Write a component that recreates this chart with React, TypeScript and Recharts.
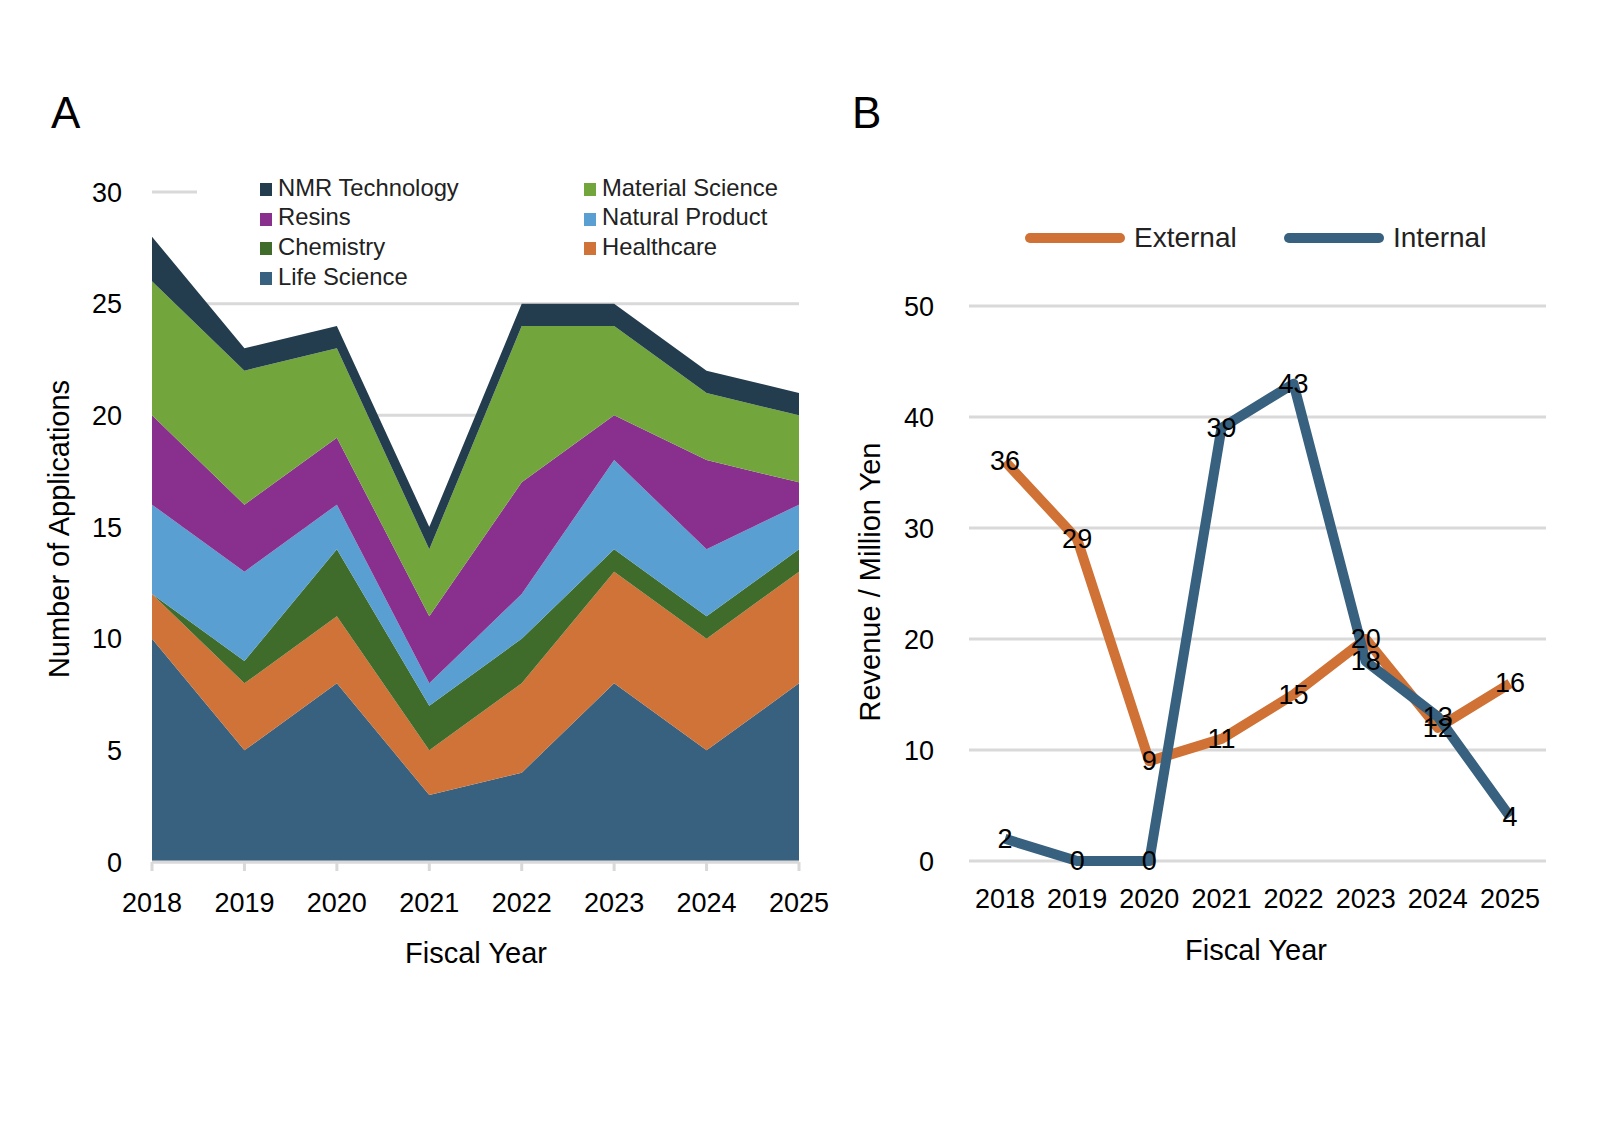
import React from 'react';
import {
  AreaChart,
  Area,
  LineChart,
  Line,
  XAxis,
  YAxis,
  CartesianGrid,
} from 'recharts';

const years = ['2018', '2019', '2020', '2021', '2022', '2023', '2024', '2025'];

// Panel A: applications per field (stacked, bottom to top)
const lifeScience = [10, 5, 8, 3, 4, 8, 5, 8];
const healthcare = [2, 3, 3, 2, 4, 5, 5, 5];
const chemistry = [0, 1, 3, 2, 2, 1, 1, 1];
const naturalProduct = [4, 4, 2, 1, 2, 4, 3, 2];
const resins = [4, 3, 3, 3, 5, 2, 4, 1];
const materialScience = [6, 6, 4, 3, 7, 4, 3, 3];
const nmrTechnology = [2, 1, 1, 1, 1, 1, 1, 1];
const applicationTicks = [0, 5, 10, 15, 20, 25, 30];

// Panel B: revenue in million yen
const external = [36, 29, 9, 11, 15, 20, 12, 16];
const internal = [2, 0, 0, 39, 43, 18, 13, 4];
const revenueTicks = [0, 10, 20, 30, 40, 50];

const fields = [
  { key: 'lifeScience', name: 'Life Science', color: '#38607F', values: lifeScience },
  { key: 'healthcare', name: 'Healthcare', color: '#CF7338', values: healthcare },
  { key: 'chemistry', name: 'Chemistry', color: '#3F6B2B', values: chemistry },
  { key: 'naturalProduct', name: 'Natural Product', color: '#599FD1', values: naturalProduct },
  { key: 'resins', name: 'Resins', color: '#89308E', values: resins },
  { key: 'materialScience', name: 'Material Science', color: '#72A63D', values: materialScience },
  { key: 'nmrTechnology', name: 'NMR Technology', color: '#243D4E', values: nmrTechnology },
];

const legendOrder = [
  'nmrTechnology',
  'materialScience',
  'resins',
  'naturalProduct',
  'chemistry',
  'healthcare',
  'lifeScience',
];

const areaData = years.map((year, i) => {
  const row: Record<string, string | number> = { year };
  fields.forEach((f) => {
    row[f.key] = f.values[i];
  });
  return row;
});

const lineData = years.map((year, i) => ({
  year,
  external: external[i],
  internal: internal[i],
}));

const FONT = "'Liberation Sans', Arial, sans-serif";
const GRID = '#d9d9d9';
const EXT_COLOR = '#D07235';
const INT_COLOR = '#37617F';

const tickStyle = { fontSize: 27, fill: '#000', fontFamily: FONT };

function AreaLegend() {
  return (
    <div
      style={{
        position: 'absolute',
        left: 197,
        top: 173,
        width: 606,
        height: 118,
        background: '#fff',
        paddingLeft: 63,
        display: 'grid',
        gridTemplateColumns: '324px 1fr',
        gridAutoRows: 29.6,
        fontFamily: FONT,
        fontSize: 23.8,
        color: '#222',
        boxSizing: 'border-box',
      }}
    >
      {legendOrder.map((k) => {
        const f = fields.find((x) => x.key === k)!;
        return (
          <div key={k} style={{ display: 'flex', alignItems: 'center', height: 29.6 }}>
            <span
              style={{
                display: 'inline-block',
                width: 12,
                height: 13,
                background: f.color,
                marginRight: 6,
                marginTop: 4,
              }}
            />
            <span>{f.name}</span>
          </div>
        );
      })}
    </div>
  );
}

function LineLegend() {
  const items = [
    { name: 'External', color: EXT_COLOR, left: 1025 },
    { name: 'Internal', color: INT_COLOR, left: 1284 },
  ];
  return (
    <>
      {items.map((it) => (
        <div
          key={it.name}
          style={{
            position: 'absolute',
            left: it.left,
            top: 238,
            transform: 'translateY(-50%)',
            display: 'flex',
            alignItems: 'center',
            fontFamily: FONT,
            fontSize: 28,
            color: '#222',
            whiteSpace: 'nowrap',
          }}
        >
          <span
            style={{
              display: 'inline-block',
              width: 100,
              height: 10,
              borderRadius: 5,
              background: it.color,
              marginRight: 9,
            }}
          />
          <span>{it.name}</span>
        </div>
      ))}
    </>
  );
}

const renderLabel = (props: any) => {
  const { x, y, value, index } = props;
  return (
    <text
      key={`lbl-${index}`}
      x={x}
      y={y}
      textAnchor="middle"
      dominantBaseline="central"
      fontSize={27}
      fontFamily={FONT}
      fill="#000"
    >
      {Math.round(value)}
    </text>
  );
};

export default function App() {
  return (
    <div
      style={{
        position: 'absolute',
        left: 0,
        top: 0,
        width: 1600,
        height: 1131,
        background: '#fff',
        fontFamily: FONT,
      }}
    >
      <div style={{ position: 'absolute', left: 51, top: 88, fontSize: 44, color: '#000' }}>A</div>
      <div style={{ position: 'absolute', left: 852, top: 88, fontSize: 44, color: '#000' }}>B</div>

      {/* Panel A */}
      <div style={{ position: 'absolute', left: 0, top: 0 }}>
        <AreaChart
          width={830}
          height={1000}
          data={areaData}
          margin={{ top: 192, right: 31, left: 0, bottom: 78 }}
        >
          <CartesianGrid vertical={false} stroke={GRID} strokeWidth={3} />
          <XAxis
            dataKey="year"
            axisLine={{ stroke: GRID, strokeWidth: 3 }}
            tickLine={{ stroke: GRID, strokeWidth: 3 }}
            tickSize={9}
            tickMargin={22}
            tick={tickStyle}
            height={60}
            interval={0}
          />
          <YAxis
            width={152}
            domain={[0, 30]}
            ticks={applicationTicks}
            axisLine={false}
            tickLine={false}
            tickSize={0}
            tickMargin={30}
            tick={tickStyle}
          />
          {fields.map((f) => (
            <Area
              key={f.key}
              type="linear"
              dataKey={f.key}
              name={f.name}
              stackId="a"
              stroke="none"
              fill={f.color}
              fillOpacity={1}
              isAnimationActive={false}
            />
          ))}
        </AreaChart>
        <AreaLegend />
        <div
          style={{
            position: 'absolute',
            left: 476,
            top: 953,
            transform: 'translate(-50%, -50%)',
            fontSize: 29,
            whiteSpace: 'nowrap',
          }}
        >
          Fiscal Year
        </div>
        <div
          style={{
            position: 'absolute',
            left: 59,
            top: 529,
            transform: 'translate(-50%, -50%) rotate(-90deg)',
            fontSize: 29,
            whiteSpace: 'nowrap',
          }}
        >
          Number of Applications
        </div>
      </div>

      {/* Panel B */}
      <div style={{ position: 'absolute', left: 830, top: 0 }}>
        <LineChart
          width={770}
          height={1000}
          data={lineData}
          margin={{ top: 306, right: 54, left: 0, bottom: 79 }}
        >
          <CartesianGrid vertical={false} stroke={GRID} strokeWidth={3} />
          <XAxis
            dataKey="year"
            axisLine={false}
            tickLine={false}
            tickSize={0}
            tickMargin={28}
            tick={tickStyle}
            height={60}
            interval={0}
            padding={{ left: 36, right: 36 }}
          />
          <YAxis
            width={139}
            domain={[0, 50]}
            ticks={revenueTicks}
            axisLine={false}
            tickLine={false}
            tickSize={0}
            tickMargin={35}
            tick={tickStyle}
          />
          <Line
            type="linear"
            dataKey="external"
            name="External"
            stroke={EXT_COLOR}
            strokeWidth={10}
            strokeLinejoin="round"
            dot={false}
            label={renderLabel}
            isAnimationActive={false}
          />
          <Line
            type="linear"
            dataKey="internal"
            name="Internal"
            stroke={INT_COLOR}
            strokeWidth={10}
            strokeLinejoin="round"
            dot={false}
            label={renderLabel}
            isAnimationActive={false}
          />
        </LineChart>
        <div
          style={{
            position: 'absolute',
            left: 426,
            top: 950,
            transform: 'translate(-50%, -50%)',
            fontSize: 29,
            whiteSpace: 'nowrap',
          }}
        >
          Fiscal Year
        </div>
        <div
          style={{
            position: 'absolute',
            left: 40,
            top: 582,
            transform: 'translate(-50%, -50%) rotate(-90deg)',
            fontSize: 29,
            whiteSpace: 'nowrap',
          }}
        >
          Revenue / Million Yen
        </div>
      </div>
      <LineLegend />
    </div>
  );
}
